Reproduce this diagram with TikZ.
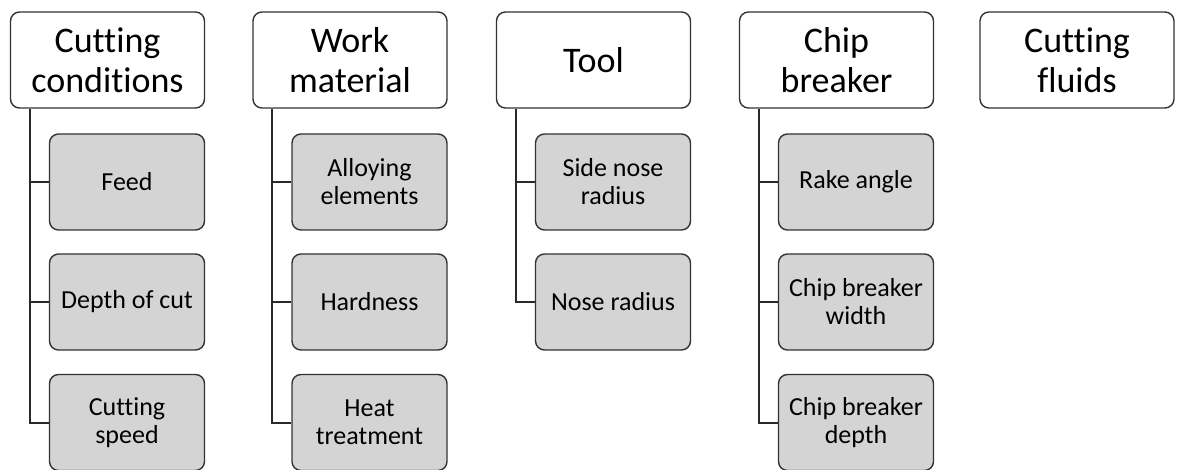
\documentclass[tikz,border=0pt]{standalone}
\usepackage{fontspec}
\setmainfont[Ligatures=NoCommon]{Carlito}
\definecolor{edge}{HTML}{333333}
\definecolor{childfill}{HTML}{D4D4D4}
\begin{document}
\begin{tikzpicture}[x=1pt,y=-1pt,
  topbox/.style={draw=edge,line width=1.4pt,fill=white,rounded corners=9pt,
    minimum width=194pt,minimum height=96pt,inner sep=0pt,align=center,
    font=\fontsize{36}{40}\selectfont},
  childbox/.style={draw=edge,line width=1.4pt,fill=childfill,rounded corners=9pt,
    minimum width=155pt,minimum height=96pt,inner sep=0pt,align=center,
    font=\fontsize{26}{28}\selectfont},
  conn/.style={draw=edge!80!black,line width=2pt}]
\useasboundingbox (0,0) rectangle (1177,470);
% top boxes
\node[topbox] (t1) at (107.5,60) {Cutting\\conditions};
\node[topbox] (t2) at (350,60) {Work\\material};
\node[topbox] (t3) at (593.5,60) {Tool};
\node[topbox] (t4) at (836.5,60) {Chip\\breaker};
\node[topbox] (t5) at (1077,60) {Cutting\\fluids};
% trunk coordinates
\coordinate (s1) at ([xshift=20pt]t1.south west);
\coordinate (s2) at ([xshift=20pt]t2.south west);
\coordinate (s3) at ([xshift=20pt]t3.south west);
\coordinate (s4) at ([xshift=20pt]t4.south west);
% children
\node[childbox] (c11) at (127,182) {Feed};
\node[childbox] (c12) at (127,302) {Depth of cut};
\node[childbox] (c13) at (127,422.5) {Cutting\\speed};
\node[childbox] (c21) at (369.5,182) {Alloying\\elements};
\node[childbox] (c22) at (369.5,302) {Hardness};
\node[childbox] (c23) at (369.5,422.5) {Heat\\treatment};
\node[childbox] (c31) at (613,182) {Side nose\\radius};
\node[childbox] (c32) at (613,302) {Nose radius};
\node[childbox] (c41) at (856,182) {Rake angle};
\node[childbox] (c42) at (856,302) {Chip breaker\\width};
\node[childbox] (c43) at (856,422.5) {Chip breaker\\depth};
% connectors
\draw[conn] (s1) |- (c13.west);
\draw[conn] (c11.west) -- (c11.west -| s1);
\draw[conn] (c12.west) -- (c12.west -| s1);
\draw[conn] (s2) |- (c23.west);
\draw[conn] (c21.west) -- (c21.west -| s2);
\draw[conn] (c22.west) -- (c22.west -| s2);
\draw[conn] (s3) |- (c32.west);
\draw[conn] (c31.west) -- (c31.west -| s3);
\draw[conn] (s4) |- (c43.west);
\draw[conn] (c41.west) -- (c41.west -| s4);
\draw[conn] (c42.west) -- (c42.west -| s4);
\end{tikzpicture}
\end{document}
